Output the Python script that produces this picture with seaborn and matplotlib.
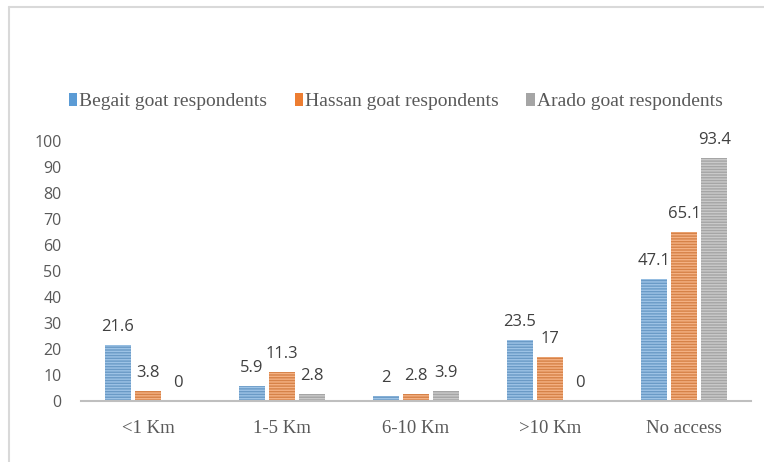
import pandas as pd
import matplotlib.pyplot as plt
import seaborn as sns
from matplotlib.colors import to_rgb
from matplotlib.lines import Line2D

# data
distances = ["<1 Km", "1-5 Km", "6-10 Km", ">10 Km", "No access"]
begait = [21.6, 5.9, 2, 23.5, 47.1]
hassan = [3.8, 11.3, 2.8, 17, 65.1]
arado = [0, 2.8, 3.9, 0, 93.4]
groups = ["Begait goat respondents", "Hassan goat respondents", "Arado goat respondents"]
colors = ["#5B9BD5", "#ED7D31", "#A5A5A5"]

df = pd.DataFrame({
    "distance": distances * 3,
    "group": [g for g in groups for _ in distances],
    "percent": begait + hassan + arado,
})

sns.set_theme(style="white")
plt.rcParams["hatch.linewidth"] = 1.0

fig = plt.figure(figsize=(7.64, 4.62), dpi=100)
ax = fig.add_axes([0.106, 0.132, 0.877, 0.563])

sns.barplot(data=df, x="distance", y="percent", hue="group", hue_order=groups,
            palette=colors, width=0.68, gap=0.15, ax=ax, legend=False)

# lighter horizontal stripes on the bars
for cont, c in zip(ax.containers, colors):
    light = tuple(0.6 * v + 0.4 for v in to_rgb(c))
    for bar in cont:
        bar.set_hatch("------")
        bar.set_edgecolor(light)
        bar.set_linewidth(0)
    ax.bar_label(cont, fmt="%g", padding=7, fontsize=12, color="#404040",
                 family="Open Sans")

ax.set_ylim(0, 100)
ax.set_yticks(range(0, 101, 10))
ax.set_xlim(-0.5, 4.5)
ax.set_xlabel("")
ax.set_ylabel("")
for s in ["top", "right", "left"]:
    ax.spines[s].set_visible(False)
ax.spines["bottom"].set_color("#BFBFBF")
ax.spines["bottom"].set_linewidth(1.5)
ax.tick_params(axis="both", length=0)
ax.tick_params(axis="x", pad=14)
ax.tick_params(axis="y", pad=14)
for lab in ax.get_yticklabels():
    lab.set_family("Open Sans")
    lab.set_fontsize(11.5)
    lab.set_color("#595959")
for lab in ax.get_xticklabels():
    lab.set_family("Liberation Serif")
    lab.set_fontsize(13.5)
    lab.set_color("#595959")

handles = [plt.Rectangle((0, 0), 1, 1, facecolor=c, edgecolor="none") for c in colors]
fig.legend(handles, groups, loc="center", bbox_to_anchor=(0.518, 0.78), ncol=3,
           frameon=False, handlelength=0.45, handleheight=0.65, handletextpad=0.1,
           columnspacing=1.4,
           prop={"family": "Liberation Serif", "size": 14}, labelcolor="#595959")

# outer frame (top and left edges visible in the reference)
fig.add_artist(Line2D([9 / 764, 9 / 764], [0, 1 - 7 / 462], transform=fig.transFigure,
                      color="#D9D9D9", lw=1.5))
fig.add_artist(Line2D([9 / 764, 1], [1 - 7 / 462, 1 - 7 / 462], transform=fig.transFigure,
                      color="#D9D9D9", lw=1.5))

fig.savefig("out.png", dpi=100)
